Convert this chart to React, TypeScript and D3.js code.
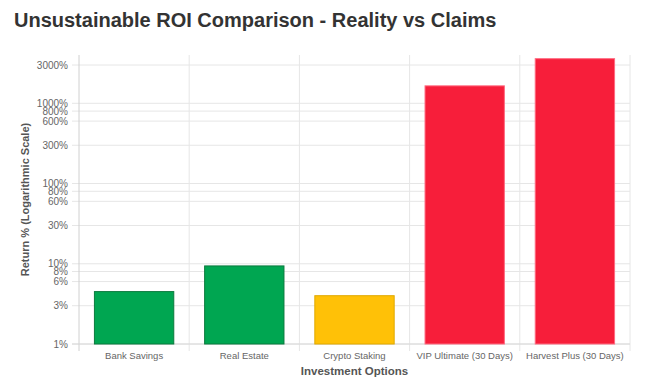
import React from "react";
import * as d3 from "d3";

const categories = ["Bank Savings", "Real Estate", "Crypto Staking", "VIP Ultimate (30 Days)", "Harvest Plus (30 Days)"];
const returns = [4.5, 9.4, 4, 1650, 3600];
const fills = ["#00A651", "#00A651", "#FFC107", "#F71E3A", "#F71E3A"];
const strokes = ["#0b7a3e", "#0b7a3e", "#E0A800", "#FF6A80", "#FF6A80"];
const yTicks = [1, 3, 6, 8, 10, 30, 60, 80, 100, 300, 600, 800, 1000, 3000];
const yDomain = [1, 4000];

const W = 655, H = 378;
const left = 79, right = 630, top = 55, bottom = 344;

export default function App() {
  const x = d3.scaleBand<string>().domain(categories).range([left, right]).paddingInner(0).paddingOuter(0);
  const y = d3.scaleLog().domain(yDomain).range([bottom, top]);
  const barW = x.bandwidth() * 0.72;
  const font = "'Liberation Sans', Arial, Helvetica, sans-serif";
  const boundaries = categories.map((c) => x(c)!).concat([right]);

  return (
    <svg width={W} height={H} style={{ position: "absolute", left: 0, top: 0, background: "#fff" }} fontFamily={font}>
      <rect width={W} height={H} fill="#fff" />
      <text x={14} y={27} fontSize={20} fontWeight="bold" fill="#333">
        Unsustainable ROI Comparison - Reality vs Claims
      </text>
      {yTicks.map((t) => (
        <line key={"h" + t} x1={left - 7} x2={right} y1={y(t)} y2={y(t)} stroke="#e6e6e6" strokeWidth={1} />
      ))}
      {boundaries.map((b, i) => (
        <line key={"v" + i} x1={b} x2={b} y1={top} y2={bottom + 7} stroke={i === 0 ? "#d0d0d0" : "#e6e6e6"} strokeWidth={1} />
      ))}
      <line x1={left - 7} x2={right} y1={bottom} y2={bottom} stroke="#d8d8d8" />
      {categories.map((c, i) => {
        const cx = x(c)! + x.bandwidth() / 2;
        const yt = y(returns[i]);
        return (
          <rect key={c} x={cx - barW / 2} y={yt} width={barW} height={bottom - yt} fill={fills[i]} stroke={strokes[i]} strokeWidth={1} />
        );
      })}
      {yTicks.map((t) => (
        <text key={"l" + t} x={68} y={y(t)} dy="0.35em" textAnchor="end" fontSize={10} fill="#666">
          {t + "%"}
        </text>
      ))}
      {categories.map((c) => (
        <text key={"xl" + c} x={x(c)! + x.bandwidth() / 2} y={359} textAnchor="middle" fontSize={9.5} fill="#666">
          {c}
        </text>
      ))}
      <text x={(left + right) / 2} y={375} textAnchor="middle" fontSize={11.5} fontWeight="bold" fill="#555">
        Investment Options
      </text>
      <text transform={`translate(29, ${(top + bottom) / 2}) rotate(-90)`} textAnchor="middle" fontSize={11} fontWeight="bold" fill="#555">
        Return % (Logarithmic Scale)
      </text>
    </svg>
  );
}
